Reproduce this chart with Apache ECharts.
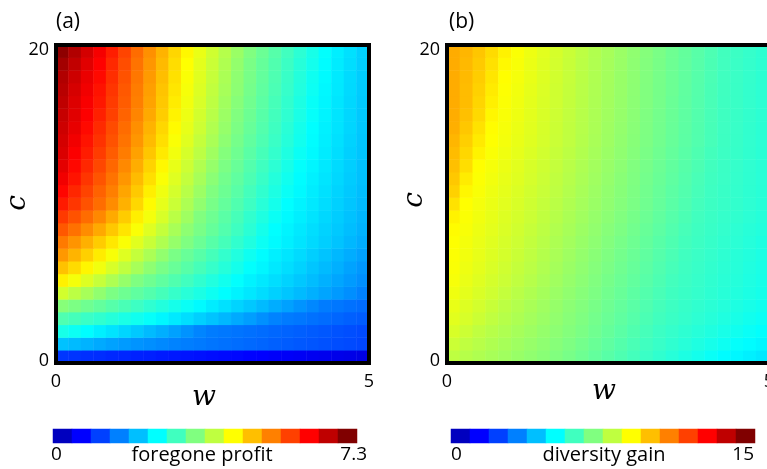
<!DOCTYPE html>
<html>
<head>
<meta charset="utf-8">
<script src="https://cdn.jsdelivr.net/npm/echarts@6/dist/echarts.min.js"></script>
<style>
  html, body { margin: 0; padding: 0; background: #ffffff; }
  #chart { width: 767px; height: 469px; }
</style>
</head>
<body>
<div id="chart"></div>
<script>
// Cell centres of the sampled (w, c) grid
const wCenters = [0.1, 0.3, 0.5, 0.7, 0.9, 1.1, 1.3, 1.5, 1.7, 1.9, 2.1, 2.3, 2.5, 2.7, 2.9, 3.1, 3.3, 3.5, 3.7, 3.9, 4.1, 4.3, 4.5, 4.7, 4.9];
const cCenters = [0.4, 1.2, 2.0, 2.8, 3.6, 4.4, 5.2, 6.0, 6.8, 7.6, 8.4, 9.2, 10.0, 10.8, 11.6, 12.4, 13.2, 14.0, 14.8, 15.6, 16.4, 17.2, 18.0, 18.8, 19.6];

// Axis tick labels
const wTicks = [0, 5];
const cTicks = [0, 20];

// Colour-bar ranges
const profitRange = [0, 7.3];
const diversityRange = [0, 15];
const colorbarSteps = 16;

// Foregone profit, one row per c value (bottom row first), one entry per w value
const profitRows = [
  [1.3, 1.28, 1.25, 1.23, 1.2, 1.18, 1.15, 1.13, 1.1, 1.08, 1.05, 1.03, 1.0, 0.98, 0.96, 0.93, 0.91, 0.88, 0.86, 0.84, 0.81, 0.79, 0.76, 0.74, 0.71],
  [2.3, 2.25, 2.19, 2.13, 2.07, 2.02, 1.97, 1.93, 1.89, 1.85, 1.81, 1.78, 1.75, 1.72, 1.69, 1.66, 1.63, 1.6, 1.57, 1.54, 1.52, 1.49, 1.46, 1.44, 1.41],
  [2.9, 2.82, 2.73, 2.63, 2.54, 2.44, 2.35, 2.25, 2.16, 2.06, 1.96, 1.86, 1.8, 1.77, 1.74, 1.71, 1.68, 1.65, 1.62, 1.59, 1.56, 1.53, 1.5, 1.47, 1.44],
  [3.3, 3.23, 3.15, 3.08, 3.0, 2.92, 2.85, 2.77, 2.68, 2.59, 2.5, 2.4, 2.31, 2.22, 2.13, 2.04, 1.94, 1.85, 1.79, 1.76, 1.72, 1.68, 1.64, 1.6, 1.57],
  [3.7, 3.62, 3.53, 3.44, 3.35, 3.26, 3.17, 3.07, 2.98, 2.89, 2.8, 2.71, 2.61, 2.52, 2.43, 2.34, 2.25, 2.15, 2.06, 1.97, 1.88, 1.8, 1.76, 1.72, 1.68],
  [4.24, 4.08, 3.93, 3.77, 3.62, 3.52, 3.42, 3.33, 3.23, 3.12, 3.02, 2.93, 2.83, 2.73, 2.65, 2.57, 2.49, 2.41, 2.33, 2.25, 2.17, 2.09, 2.01, 1.93, 1.84],
  [4.66, 4.49, 4.32, 4.15, 3.98, 3.81, 3.64, 3.53, 3.42, 3.31, 3.2, 3.08, 2.97, 2.86, 2.75, 2.65, 2.58, 2.5, 2.42, 2.34, 2.26, 2.18, 2.1, 2.02, 1.94],
  [5.0, 4.82, 4.63, 4.46, 4.28, 4.11, 3.93, 3.75, 3.6, 3.48, 3.36, 3.24, 3.12, 3.0, 2.88, 2.75, 2.67, 2.58, 2.5, 2.42, 2.33, 2.25, 2.17, 2.08, 2.0],
  [5.3, 5.1, 4.9, 4.7, 4.51, 4.33, 4.14, 3.96, 3.78, 3.61, 3.48, 3.36, 3.23, 3.1, 2.97, 2.84, 2.72, 2.63, 2.56, 2.48, 2.39, 2.31, 2.23, 2.15, 2.07],
  [5.52, 5.33, 5.13, 4.93, 4.73, 4.53, 4.35, 4.17, 3.99, 3.81, 3.64, 3.5, 3.36, 3.23, 3.09, 2.96, 2.82, 2.71, 2.63, 2.55, 2.47, 2.39, 2.31, 2.23, 2.15],
  [5.76, 5.58, 5.39, 5.18, 4.96, 4.75, 4.53, 4.33, 4.14, 3.94, 3.75, 3.6, 3.46, 3.32, 3.18, 3.04, 2.88, 2.74, 2.66, 2.58, 2.5, 2.42, 2.35, 2.27, 2.19],
  [5.98, 5.8, 5.62, 5.42, 5.17, 4.93, 4.68, 4.48, 4.28, 4.07, 3.87, 3.66, 3.52, 3.38, 3.24, 3.09, 2.95, 2.81, 2.7, 2.62, 2.54, 2.46, 2.38, 2.3, 2.22],
  [6.2, 6.0, 5.8, 5.61, 5.39, 5.12, 4.85, 4.59, 4.38, 4.18, 3.97, 3.77, 3.59, 3.45, 3.31, 3.17, 3.02, 2.88, 2.74, 2.66, 2.58, 2.49, 2.41, 2.33, 2.25],
  [6.35, 6.12, 5.91, 5.69, 5.48, 5.21, 4.95, 4.68, 4.45, 4.25, 4.05, 3.85, 3.65, 3.51, 3.37, 3.22, 3.08, 2.94, 2.8, 2.7, 2.61, 2.52, 2.43, 2.35, 2.27],
  [6.48, 6.25, 6.01, 5.79, 5.57, 5.32, 5.05, 4.79, 4.53, 4.33, 4.13, 3.93, 3.73, 3.56, 3.42, 3.28, 3.14, 2.99, 2.85, 2.72, 2.64, 2.55, 2.46, 2.37, 2.29],
  [6.58, 6.34, 6.11, 5.88, 5.65, 5.41, 5.15, 4.88, 4.61, 4.4, 4.2, 4.0, 3.81, 3.62, 3.48, 3.33, 3.19, 3.05, 2.9, 2.76, 2.67, 2.58, 2.48, 2.39, 2.3],
  [6.65, 6.41, 6.19, 5.96, 5.73, 5.5, 5.24, 4.97, 4.71, 4.47, 4.27, 4.08, 3.88, 3.68, 3.53, 3.38, 3.24, 3.1, 2.95, 2.81, 2.7, 2.6, 2.5, 2.4, 2.32],
  [6.7, 6.48, 6.25, 6.03, 5.8, 5.57, 5.32, 5.05, 4.79, 4.53, 4.34, 4.14, 3.95, 3.75, 3.58, 3.43, 3.29, 3.15, 3.0, 2.86, 2.72, 2.62, 2.52, 2.42, 2.33],
  [6.75, 6.55, 6.32, 6.09, 5.85, 5.62, 5.37, 5.11, 4.85, 4.59, 4.39, 4.2, 4.0, 3.81, 3.62, 3.47, 3.33, 3.18, 3.03, 2.88, 2.74, 2.64, 2.54, 2.44, 2.34],
  [6.8, 6.6, 6.4, 6.16, 5.93, 5.68, 5.44, 5.18, 4.92, 4.65, 4.43, 4.24, 4.05, 3.85, 3.66, 3.51, 3.36, 3.21, 3.07, 2.92, 2.77, 2.66, 2.55, 2.45, 2.35],
  [6.85, 6.63, 6.43, 6.22, 5.97, 5.73, 5.48, 5.22, 4.96, 4.7, 4.47, 4.28, 4.09, 3.89, 3.7, 3.54, 3.39, 3.24, 3.09, 2.94, 2.79, 2.67, 2.56, 2.46, 2.36],
  [6.9, 6.68, 6.48, 6.26, 6.01, 5.76, 5.5, 5.25, 4.99, 4.74, 4.5, 4.31, 4.12, 3.93, 3.74, 3.57, 3.42, 3.27, 3.12, 2.97, 2.82, 2.69, 2.58, 2.47, 2.37],
  [6.95, 6.75, 6.53, 6.32, 6.06, 5.8, 5.54, 5.29, 5.03, 4.78, 4.53, 4.34, 4.15, 3.96, 3.76, 3.59, 3.44, 3.29, 3.14, 2.99, 2.84, 2.71, 2.59, 2.48, 2.38],
  [7.05, 6.83, 6.6, 6.38, 6.1, 5.84, 5.57, 5.32, 5.06, 4.81, 4.56, 4.37, 4.18, 3.99, 3.79, 3.61, 3.46, 3.31, 3.16, 3.01, 2.87, 2.72, 2.6, 2.5, 2.39],
  [7.2, 6.95, 6.7, 6.45, 6.18, 5.9, 5.62, 5.36, 5.11, 4.86, 4.61, 4.41, 4.22, 4.03, 3.84, 3.65, 3.5, 3.35, 3.2, 3.05, 2.9, 2.75, 2.62, 2.52, 2.41]
];

// Diversity gain, same layout
const diversityRows = [
  [8.42, 8.3, 8.2, 8.09, 7.98, 7.86, 7.75, 7.64, 7.52, 7.38, 7.23, 7.07, 6.92, 6.77, 6.62, 6.47, 6.33, 6.19, 6.04, 5.9, 5.75, 5.6, 5.51, 5.4, 5.3],
  [8.6, 8.44, 8.32, 8.2, 8.08, 7.96, 7.84, 7.72, 7.6, 7.47, 7.32, 7.17, 7.02, 6.86, 6.71, 6.56, 6.44, 6.32, 6.19, 6.07, 5.94, 5.82, 5.69, 5.6, 5.5],
  [8.8, 8.62, 8.44, 8.31, 8.19, 8.06, 7.94, 7.81, 7.69, 7.56, 7.42, 7.27, 7.11, 6.96, 6.8, 6.65, 6.5, 6.4, 6.29, 6.18, 6.08, 5.97, 5.86, 5.75, 5.65],
  [8.95, 8.78, 8.61, 8.44, 8.3, 8.17, 8.03, 7.9, 7.76, 7.62, 7.48, 7.33, 7.18, 7.03, 6.88, 6.73, 6.58, 6.48, 6.38, 6.28, 6.18, 6.08, 5.98, 5.88, 5.78],
  [9.05, 8.88, 8.72, 8.55, 8.39, 8.25, 8.11, 7.97, 7.83, 7.68, 7.54, 7.39, 7.24, 7.09, 6.94, 6.79, 6.64, 6.52, 6.42, 6.33, 6.24, 6.15, 6.05, 5.96, 5.87],
  [9.15, 8.98, 8.82, 8.66, 8.5, 8.34, 8.2, 8.05, 7.9, 7.75, 7.6, 7.45, 7.3, 7.15, 6.99, 6.84, 6.69, 6.55, 6.46, 6.38, 6.29, 6.2, 6.11, 6.02, 5.93],
  [9.25, 9.06, 8.9, 8.74, 8.6, 8.44, 8.29, 8.13, 7.98, 7.82, 7.67, 7.52, 7.36, 7.21, 7.06, 6.91, 6.76, 6.6, 6.5, 6.41, 6.32, 6.23, 6.15, 6.06, 5.97],
  [9.3, 9.13, 8.98, 8.82, 8.67, 8.51, 8.37, 8.21, 8.05, 7.89, 7.74, 7.58, 7.43, 7.27, 7.12, 6.97, 6.81, 6.66, 6.53, 6.44, 6.35, 6.26, 6.18, 6.09, 6.0],
  [9.33, 9.18, 9.03, 8.88, 8.74, 8.58, 8.43, 8.27, 8.12, 7.96, 7.8, 7.64, 7.49, 7.33, 7.18, 7.03, 6.87, 6.72, 6.56, 6.47, 6.38, 6.29, 6.2, 6.12, 6.03],
  [9.36, 9.21, 9.06, 8.92, 8.77, 8.63, 8.48, 8.33, 8.17, 8.01, 7.86, 7.7, 7.54, 7.38, 7.23, 7.08, 6.92, 6.77, 6.61, 6.51, 6.42, 6.33, 6.25, 6.16, 6.07],
  [9.42, 9.27, 9.11, 8.97, 8.83, 8.68, 8.54, 8.39, 8.23, 8.08, 7.92, 7.76, 7.6, 7.45, 7.29, 7.14, 6.98, 6.82, 6.66, 6.54, 6.45, 6.37, 6.28, 6.2, 6.12],
  [9.55, 9.32, 9.17, 9.02, 8.88, 8.74, 8.6, 8.45, 8.3, 8.14, 7.98, 7.82, 7.67, 7.51, 7.36, 7.2, 7.04, 6.88, 6.73, 6.57, 6.48, 6.4, 6.33, 6.25, 6.17],
  [9.8, 9.37, 9.22, 9.08, 8.94, 8.8, 8.65, 8.51, 8.36, 8.2, 8.04, 7.89, 7.73, 7.57, 7.42, 7.26, 7.1, 6.94, 6.78, 6.62, 6.51, 6.43, 6.36, 6.28, 6.2],
  [10.05, 9.5, 9.28, 9.13, 8.99, 8.85, 8.7, 8.56, 8.41, 8.25, 8.09, 7.93, 7.77, 7.61, 7.45, 7.29, 7.13, 6.97, 6.82, 6.66, 6.53, 6.45, 6.37, 6.29, 6.21],
  [10.18, 9.66, 9.33, 9.19, 9.04, 8.9, 8.75, 8.6, 8.45, 8.29, 8.13, 7.97, 7.81, 7.64, 7.48, 7.33, 7.17, 7.01, 6.85, 6.69, 6.55, 6.47, 6.38, 6.3, 6.22],
  [10.3, 9.86, 9.39, 9.24, 9.09, 8.94, 8.79, 8.65, 8.5, 8.34, 8.18, 8.01, 7.85, 7.69, 7.52, 7.37, 7.21, 7.05, 6.89, 6.74, 6.58, 6.48, 6.4, 6.31, 6.23],
  [10.36, 9.97, 9.55, 9.3, 9.15, 9.0, 8.85, 8.69, 8.54, 8.39, 8.23, 8.06, 7.9, 7.73, 7.57, 7.41, 7.25, 7.09, 6.93, 6.77, 6.61, 6.5, 6.42, 6.33, 6.24],
  [10.45, 10.08, 9.69, 9.36, 9.21, 9.05, 8.9, 8.75, 8.59, 8.44, 8.27, 8.1, 7.94, 7.77, 7.61, 7.45, 7.29, 7.13, 6.97, 6.82, 6.66, 6.52, 6.43, 6.34, 6.25],
  [10.55, 10.2, 9.8, 9.4, 9.24, 9.08, 8.93, 8.77, 8.61, 8.45, 8.29, 8.13, 7.96, 7.8, 7.63, 7.47, 7.31, 7.15, 6.99, 6.83, 6.67, 6.53, 6.44, 6.35, 6.26],
  [10.58, 10.31, 9.93, 9.5, 9.28, 9.12, 8.96, 8.8, 8.63, 8.47, 8.31, 8.15, 7.98, 7.82, 7.66, 7.49, 7.33, 7.17, 7.0, 6.84, 6.68, 6.54, 6.45, 6.36, 6.27],
  [10.6, 10.36, 10.0, 9.59, 9.32, 9.15, 8.98, 8.82, 8.66, 8.49, 8.33, 8.16, 8.0, 7.84, 7.67, 7.51, 7.35, 7.18, 7.02, 6.85, 6.69, 6.54, 6.46, 6.37, 6.28],
  [10.6, 10.37, 10.05, 9.67, 9.35, 9.18, 9.01, 8.84, 8.67, 8.51, 8.34, 8.18, 8.01, 7.85, 7.69, 7.52, 7.36, 7.2, 7.03, 6.87, 6.7, 6.55, 6.46, 6.37, 6.28],
  [10.6, 10.4, 10.12, 9.75, 9.39, 9.22, 9.05, 8.87, 8.7, 8.53, 8.36, 8.19, 8.03, 7.86, 7.7, 7.53, 7.37, 7.21, 7.04, 6.88, 6.72, 6.56, 6.47, 6.38, 6.29],
  [10.6, 10.41, 10.16, 9.82, 9.47, 9.27, 9.08, 8.9, 8.72, 8.55, 8.37, 8.21, 8.04, 7.88, 7.71, 7.55, 7.39, 7.22, 7.06, 6.9, 6.73, 6.57, 6.47, 6.38, 6.29],
  [10.6, 10.45, 10.22, 9.9, 9.56, 9.31, 9.13, 8.94, 8.76, 8.58, 8.4, 8.23, 8.07, 7.9, 7.74, 7.57, 7.41, 7.24, 7.08, 6.91, 6.75, 6.58, 6.49, 6.4, 6.3]
];

// Jet colour map: continuous stops for the fields, 16 steps for the bars
const jetStops = ['#000080', '#0000ff', '#0080ff', '#00ffff', '#80ff80', '#ffff00', '#ff8000', '#ff0000', '#800000'];
const jet16 = ['#0000bf', '#0000ff', '#0040ff', '#0080ff', '#00bfff', '#00ffff', '#40ffbf', '#80ff80',
               '#bfff40', '#ffff00', '#ffbf00', '#ff8000', '#ff4000', '#ff0000', '#bf0000', '#800000'];

const SANS = '"Open Sans", "Noto Sans", sans-serif';
const SERIF = '"DejaVu Serif", "Liberation Serif", serif';

function toCells(rows) {
  const out = [];
  rows.forEach((row, j) => row.forEach((v, i) => out.push([i, j, v])));
  return out;
}

function colorbarCells(range) {
  const step = (range[1] - range[0]) / colorbarSteps;
  const out = [];
  for (let i = 0; i < colorbarSteps; i++) out.push([i, 0, range[0] + (i + 0.5) * step]);
  return out;
}

function colorbarPieces(range) {
  const step = (range[1] - range[0]) / colorbarSteps;
  return jet16.map((col, i) => ({ gte: range[0] + i * step, lt: range[0] + (i + 1) * step, color: col }));
}

const frameLine = { show: true, onZero: false, lineStyle: { color: '#000', width: 4, cap: 'square' } };

// End labels of the value axes sit slightly inside the frame corners
function yTickFormatter(v) {
  return v === cTicks[1] ? '{hi|' + v + '}' : '{lo|' + v + '}';
}
const tickFont = { color: '#000', fontSize: 18, fontFamily: SANS };

function panelAxes(gi) {
  const x = [
    { type: 'category', gridIndex: gi, data: wCenters, position: 'top', z: 10,
      axisLine: frameLine, axisTick: { show: false }, axisLabel: { show: false }, splitLine: { show: false } },
    { type: 'value', gridIndex: gi, min: wTicks[0], max: wTicks[1], interval: wTicks[1] - wTicks[0], position: 'bottom', z: 10,
      axisLine: frameLine, axisTick: { show: false }, splitLine: { show: false },
      axisLabel: Object.assign({ margin: 10 }, tickFont) }
  ];
  const y = [
    { type: 'category', gridIndex: gi, data: cCenters, position: 'right', z: 10,
      axisLine: frameLine, axisTick: { show: false }, axisLabel: { show: false }, splitLine: { show: false } },
    { type: 'value', gridIndex: gi, min: cTicks[0], max: cTicks[1], interval: cTicks[1] - cTicks[0], position: 'left', z: 10,
      axisLine: frameLine, axisTick: { show: false }, splitLine: { show: false },
      axisLabel: Object.assign({
        margin: 7,
        formatter: yTickFormatter,
        rich: {
          hi: Object.assign({ padding: [9, 0, 0, 0] }, tickFont),
          lo: Object.assign({ padding: [0, 0, 5, 0] }, tickFont)
        }
      }, tickFont) }
  ];
  return { x, y };
}

function barAxes(gi) {
  return {
    x: { type: 'category', gridIndex: gi, show: false, data: jet16.map((_, i) => i) },
    y: { type: 'category', gridIndex: gi, show: false, data: ['level'] }
  };
}

const pa = panelAxes(0), pb = panelAxes(1), ba = barAxes(2), bb = barAxes(3);

function label(text, x, y, opts) {
  return {
    type: 'text', x: x, y: y,
    style: Object.assign({ text: text, fill: '#000', font: '19px ' + SANS, textAlign: 'left', textVerticalAlign: 'middle' }, opts || {})
  };
}

const chart = echarts.init(document.getElementById('chart'), null, { renderer: 'canvas' });
chart.setOption({
  animation: false,
  backgroundColor: '#ffffff',
  grid: [
    { left: 56, top: 45, width: 313, height: 318, outerBoundsMode: 'none' },
    { left: 447, top: 45, width: 322, height: 318, outerBoundsMode: 'none' },
    { left: 53, top: 429, width: 304, height: 14, outerBoundsMode: 'none' },
    { left: 451, top: 429, width: 304, height: 14, outerBoundsMode: 'none' }
  ],
  xAxis: [pa.x[0], pa.x[1], pb.x[0], pb.x[1], ba.x, bb.x],
  yAxis: [pa.y[0], pa.y[1], pb.y[0], pb.y[1], ba.y, bb.y],
  visualMap: [
    { type: 'continuous', show: false, seriesIndex: 0, dimension: 2, min: profitRange[0], max: profitRange[1], inRange: { color: jetStops } },
    { type: 'continuous', show: false, seriesIndex: 1, dimension: 2, min: diversityRange[0], max: diversityRange[1], inRange: { color: jetStops } },
    { type: 'piecewise', show: false, seriesIndex: 2, dimension: 2, pieces: colorbarPieces(profitRange) },
    { type: 'piecewise', show: false, seriesIndex: 3, dimension: 2, pieces: colorbarPieces(diversityRange) }
  ],
  series: [
    { type: 'heatmap', name: 'foregone profit', xAxisIndex: 0, yAxisIndex: 0, data: toCells(profitRows), itemStyle: { borderWidth: 0 } },
    { type: 'heatmap', name: 'diversity gain', xAxisIndex: 2, yAxisIndex: 2, data: toCells(diversityRows), itemStyle: { borderWidth: 0 } },
    { type: 'heatmap', xAxisIndex: 4, yAxisIndex: 4, data: colorbarCells(profitRange) },
    { type: 'heatmap', xAxisIndex: 5, yAxisIndex: 5, data: colorbarCells(diversityRange) }
  ],
  graphic: [
    label('(a)', 56, 22, { font: '21px ' + SANS }),
    label('(b)', 449, 22, { font: '21px ' + SANS }),
    label('w', 204, 398, { font: 'italic 28px ' + SERIF, textAlign: 'center' }),
    label('w', 604, 392, { font: 'italic 28px ' + SERIF, textAlign: 'center' }),
    { type: 'text', x: 18, y: 203, rotation: Math.PI / 2,
      style: { text: 'c', fill: '#000', font: 'italic 28px ' + SERIF, textAlign: 'center', textVerticalAlign: 'middle' } },
    { type: 'text', x: 415, y: 200, rotation: Math.PI / 2,
      style: { text: 'c', fill: '#000', font: 'italic 28px ' + SERIF, textAlign: 'center', textVerticalAlign: 'middle' } },
    label(String(profitRange[0]), 51, 455),
    label('foregone profit', 202, 455, { textAlign: 'center', font: '20px ' + SANS }),
    label(String(profitRange[1]), 367, 455, { textAlign: 'right' }),
    label(String(diversityRange[0]), 451, 455),
    label('diversity gain', 604, 455, { textAlign: 'center', font: '20px ' + SANS }),
    label(String(diversityRange[1]), 754, 455, { textAlign: 'right' })
  ]
});
</script>
</body>
</html>
